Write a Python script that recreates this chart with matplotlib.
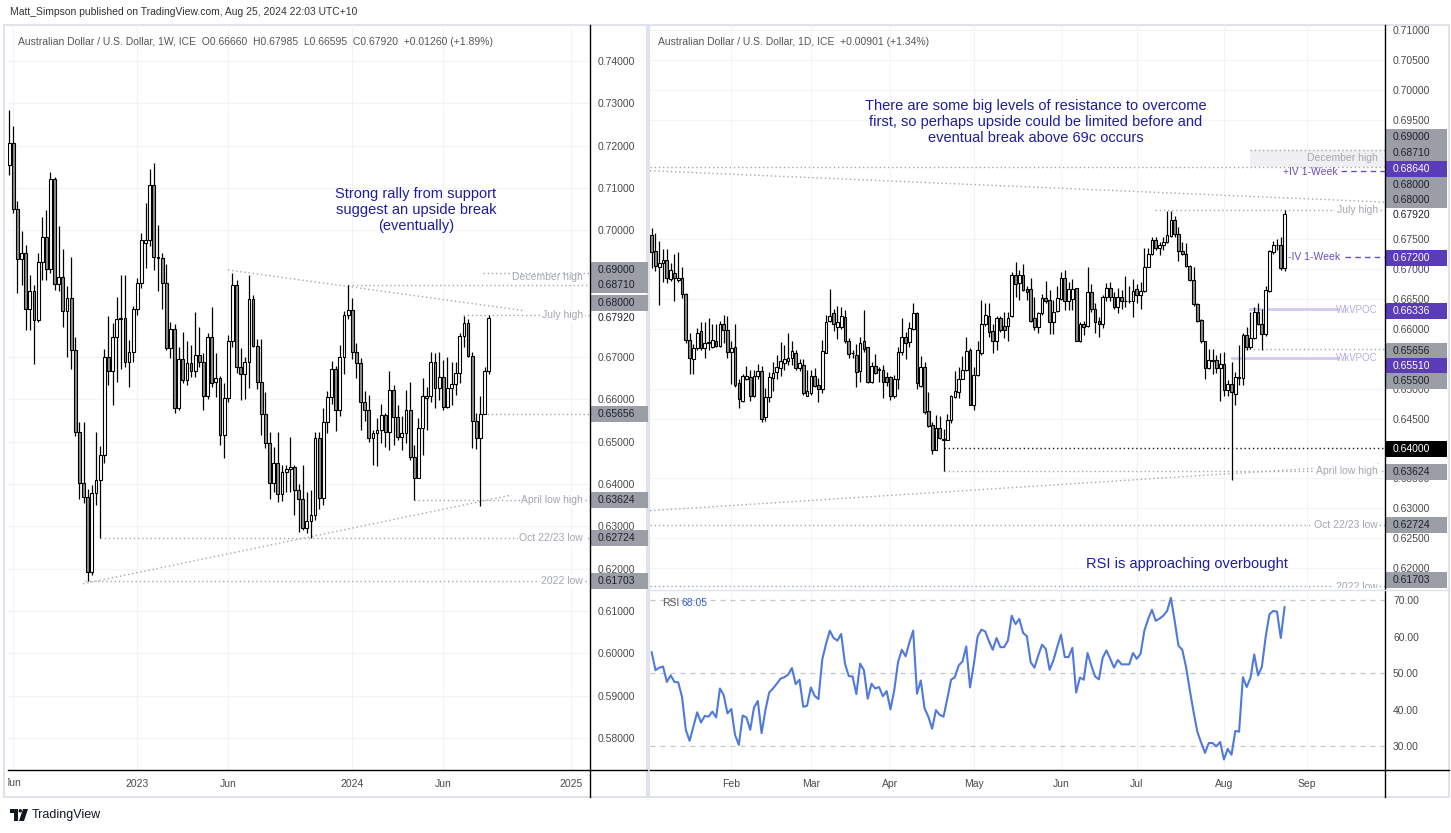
import numpy as np
import pandas as pd
import matplotlib
matplotlib.use("Agg")
import matplotlib.pyplot as plt
from matplotlib.patches import Rectangle, Polygon, Ellipse
from matplotlib.lines import Line2D
from matplotlib.transforms import Bbox

plt.rcParams['font.family'] = ['Liberation Sans', 'DejaVu Sans']

W, H = 1451, 833

# ---------------- weekly AUD/USD, bars start week of 2022-05-30 ----------------
wk_open = [0.7154, 0.7205, 0.7049, 0.6931, 0.6945, 0.6813, 0.6856, 0.6788, 0.6924, 0.6984, 0.6908,
           0.7120, 0.6872, 0.6889, 0.6808, 0.6839, 0.6717, 0.6524, 0.6402, 0.6369, 0.6192,
           0.6379, 0.6410, 0.6469, 0.6701, 0.6666, 0.6748, 0.6789, 0.6792, 0.6689, 0.6711,
           0.6813, 0.6876, 0.6970, 0.6976, 0.7107, 0.6936, 0.6934, 0.6874, 0.6721, 0.6766,
           0.6579, 0.6695, 0.6646, 0.6685, 0.6666, 0.6705, 0.6689, 0.6609, 0.6747, 0.6642,
           0.6650, 0.6516, 0.6603, 0.6737, 0.6870, 0.6677, 0.6660, 0.6689, 0.6837, 0.6727,
           0.6642, 0.6565, 0.6496, 0.6402, 0.6449, 0.6376, 0.6429, 0.6435, 0.6440, 0.6386,
           0.6365, 0.6296, 0.6313, 0.6327, 0.6508, 0.6366, 0.6546, 0.6605, 0.6672, 0.6575,
           0.6700, 0.6800, 0.6812, 0.6711, 0.6686, 0.6595, 0.6576, 0.6508, 0.6520, 0.6528,
           0.6563, 0.6522, 0.6622, 0.6559, 0.6512, 0.6520, 0.6575, 0.6463, 0.6415, 0.6532,
           0.6603, 0.6608, 0.6689, 0.6626, 0.6652, 0.6583, 0.6626, 0.6636, 0.6663, 0.6750,
           0.6781, 0.6702, 0.6550, 0.6508, 0.65656, 0.66660]
wk_high = [0.7283, 0.7246, 0.7069, 0.6997, 0.6965, 0.6894, 0.6870, 0.6945, 0.7032, 0.7048, 0.7138,
           0.7125, 0.7010, 0.6956, 0.6867, 0.6936, 0.6748, 0.6547, 0.6547, 0.6388, 0.6398,
           0.6522, 0.6490, 0.6720, 0.6796, 0.6780, 0.6843, 0.6894, 0.6894, 0.6740, 0.6821,
           0.6886, 0.6993, 0.7064, 0.7144, 0.7160, 0.7012, 0.6945, 0.6920, 0.6784, 0.6778,
           0.6725, 0.6760, 0.6739, 0.6729, 0.6807, 0.6772, 0.6709, 0.6756, 0.6818, 0.6709,
           0.6655, 0.6638, 0.6752, 0.6900, 0.6882, 0.6721, 0.6701, 0.6894, 0.6847, 0.6742,
           0.6742, 0.6617, 0.6524, 0.6488, 0.6522, 0.6445, 0.6445, 0.6512, 0.6445, 0.6401,
           0.6445, 0.6380, 0.6385, 0.6522, 0.6522, 0.6580, 0.6620, 0.6690, 0.6680, 0.6728,
           0.6808, 0.6871, 0.6839, 0.6734, 0.6697, 0.6620, 0.6610, 0.6528, 0.6555, 0.6590,
           0.6567, 0.6666, 0.6634, 0.6587, 0.6560, 0.6622, 0.6642, 0.6492, 0.6556, 0.6650,
           0.6630, 0.6713, 0.6709, 0.6713, 0.6693, 0.6701, 0.6689, 0.6689, 0.6756, 0.6798,
           0.6791, 0.6712, 0.6569, 0.6607, 0.6676, 0.67985]
wk_low = [0.7130, 0.7040, 0.6852, 0.6870, 0.6764, 0.6764, 0.6683, 0.6784, 0.6882, 0.6882, 0.6898,
          0.6859, 0.6857, 0.6772, 0.6700, 0.6671, 0.6514, 0.6364, 0.6356, 0.6170, 0.6185,
          0.6350, 0.6272, 0.6450, 0.6634, 0.6587, 0.6642, 0.6671, 0.6677, 0.6630, 0.6689,
          0.6800, 0.6863, 0.6910, 0.6962, 0.6906, 0.6857, 0.6813, 0.6717, 0.6697, 0.6567,
          0.6575, 0.6638, 0.6634, 0.6654, 0.6654, 0.6677, 0.6575, 0.6600, 0.6630, 0.6606,
          0.6492, 0.6461, 0.6595, 0.6725, 0.6663, 0.6599, 0.6602, 0.6626, 0.6725, 0.6624,
          0.6516, 0.6484, 0.6365, 0.6382, 0.6357, 0.6360, 0.6382, 0.6382, 0.6327, 0.6286,
          0.6291, 0.6285, 0.6272, 0.6315, 0.6340, 0.6350, 0.6520, 0.6590, 0.6525, 0.6560,
          0.6660, 0.6790, 0.6695, 0.6650, 0.6528, 0.6550, 0.6500, 0.6446, 0.6443, 0.6496,
          0.6488, 0.6481, 0.6493, 0.6504, 0.6480, 0.6497, 0.6457, 0.6362, 0.6414, 0.6469,
          0.6528, 0.6595, 0.6579, 0.6599, 0.6575, 0.6579, 0.6586, 0.6610, 0.6638, 0.6725,
          0.6700, 0.6484, 0.6482, 0.6348, 0.6566, 0.66595]
wk_close = [0.7205, 0.7049, 0.6931, 0.6945, 0.6813, 0.6856, 0.6788, 0.6924, 0.6984, 0.6908, 0.7120,
            0.6872, 0.6889, 0.6808, 0.6839, 0.6717, 0.6524, 0.6402, 0.6369, 0.6192, 0.6379,
            0.6410, 0.6469, 0.6701, 0.6666, 0.6748, 0.6789, 0.6792, 0.6689, 0.6711, 0.6813,
            0.6876, 0.6977, 0.6976, 0.7107, 0.6936, 0.6934, 0.6874, 0.6721, 0.6766, 0.6579,
            0.6695, 0.6646, 0.6685, 0.6666, 0.6705, 0.6689, 0.6609, 0.6747, 0.6638, 0.6650,
            0.6516, 0.6603, 0.6737, 0.6870, 0.6677, 0.6660, 0.6689, 0.6837, 0.6727, 0.6642,
            0.6565, 0.6496, 0.6402, 0.6449, 0.6376, 0.6429, 0.6435, 0.6440, 0.6386, 0.6365,
            0.6296, 0.6313, 0.6327, 0.6508, 0.6366, 0.6546, 0.6605, 0.6672, 0.6575, 0.6700,
            0.6800, 0.6812, 0.6711, 0.6686, 0.6595, 0.6576, 0.6508, 0.6520, 0.6528, 0.6563,
            0.6522, 0.6622, 0.6559, 0.6512, 0.6520, 0.6575, 0.6463, 0.6415, 0.6532, 0.6607,
            0.6608, 0.6689, 0.6626, 0.6652, 0.6583, 0.6626, 0.6636, 0.6663, 0.6750, 0.6781,
            0.6702, 0.6550, 0.6508, 0.65656, 0.66660, 0.67920]

# ---------------- daily AUD/USD, 2024-01-03 .. 2024-08-23 ----------------
d_open = [0.6757, 0.6730, 0.6704, 0.6711, 0.6715, 0.6683, 0.6693, 0.6681, 0.6685, 0.6658,
          0.6581, 0.6549, 0.6568, 0.6597, 0.6568, 0.6577, 0.6569, 0.6579, 0.6571, 0.6608,
          0.6599, 0.6562, 0.6569, 0.6510, 0.6479, 0.6516, 0.6519, 0.6488, 0.6522, 0.6530,
          0.6452, 0.6486, 0.6518, 0.6528, 0.6535, 0.6543, 0.6547, 0.6551, 0.6560, 0.6535,
          0.6539, 0.6488, 0.6493, 0.6522, 0.6506, 0.6499, 0.6559, 0.6613, 0.6626, 0.6604,
          0.6604, 0.6620, 0.6580, 0.6559, 0.6557, 0.6530, 0.6579, 0.6569, 0.6512, 0.6538,
          0.6532, 0.6531, 0.6520, 0.6519, 0.6487, 0.6517, 0.6561, 0.6586, 0.6578, 0.6600,
          0.6626, 0.6505, 0.6536, 0.6462, 0.6439, 0.6398, 0.6435, 0.6415, 0.6415, 0.6447,
          0.6486, 0.6494, 0.6517, 0.6531, 0.6565, 0.6472, 0.6523, 0.6559, 0.6608, 0.6621,
          0.6597, 0.6579, 0.6618, 0.6605, 0.6605, 0.6622, 0.6690, 0.6676, 0.6691, 0.6667,
          0.6667, 0.6618, 0.6604, 0.6626, 0.6652, 0.6648, 0.6612, 0.6630, 0.6650, 0.6685,
          0.6647, 0.6650, 0.6668, 0.6580, 0.6609, 0.6605, 0.6661, 0.6633, 0.6613, 0.6608,
          0.6654, 0.6668, 0.6654, 0.6637, 0.6653, 0.6646, 0.6647, 0.6646, 0.6666, 0.6656,
          0.6664, 0.6704, 0.6725, 0.6749, 0.6735, 0.6740, 0.6745, 0.6756, 0.6782, 0.6758,
          0.6730, 0.6726, 0.6706, 0.6681, 0.6642, 0.6615, 0.6579, 0.6534, 0.6548, 0.6548,
          0.6534, 0.6542, 0.6497, 0.6508, 0.6491, 0.6518, 0.6518, 0.6590, 0.6569, 0.6584,
          0.6629, 0.6609, 0.6591, 0.6664, 0.6728, 0.6740, 0.6741, 0.67019]
d_high = [0.6769, 0.6760, 0.6747, 0.6734, 0.6734, 0.6711, 0.6725, 0.6728, 0.6704, 0.6660,
          0.6594, 0.6574, 0.6601, 0.6611, 0.6611, 0.6619, 0.6609, 0.6609, 0.6613, 0.6623,
          0.6621, 0.6579, 0.6609, 0.6517, 0.6525, 0.6538, 0.6531, 0.6531, 0.6542, 0.6538,
          0.6501, 0.6528, 0.6545, 0.6557, 0.6578, 0.6573, 0.6594, 0.6580, 0.6565, 0.6550,
          0.6550, 0.6531, 0.6532, 0.6534, 0.6518, 0.6581, 0.6623, 0.6667, 0.6633, 0.6639,
          0.6636, 0.6631, 0.6584, 0.6565, 0.6574, 0.6587, 0.6632, 0.6570, 0.6545, 0.6558,
          0.6537, 0.6540, 0.6528, 0.6522, 0.6523, 0.6570, 0.6619, 0.6595, 0.6611, 0.6643,
          0.6629, 0.6554, 0.6545, 0.6494, 0.6445, 0.6456, 0.6455, 0.6433, 0.6457, 0.6490,
          0.6530, 0.6537, 0.6554, 0.6586, 0.6568, 0.6537, 0.6579, 0.6648, 0.6643, 0.6643,
          0.6609, 0.6622, 0.6621, 0.6629, 0.6629, 0.6696, 0.6712, 0.6699, 0.6708, 0.6672,
          0.6685, 0.6654, 0.6629, 0.6658, 0.6680, 0.6665, 0.6648, 0.6672, 0.6696, 0.6699,
          0.6679, 0.6684, 0.6669, 0.6611, 0.6613, 0.6704, 0.6675, 0.6644, 0.6620, 0.6657,
          0.6676, 0.6678, 0.6662, 0.6668, 0.6665, 0.6689, 0.6671, 0.6683, 0.6675, 0.6678,
          0.6735, 0.6735, 0.6753, 0.6753, 0.6746, 0.6754, 0.6797, 0.6797, 0.6789, 0.6771,
          0.6745, 0.6743, 0.6707, 0.6703, 0.6644, 0.6617, 0.6580, 0.6567, 0.6566, 0.6557,
          0.6559, 0.6562, 0.6515, 0.6545, 0.6528, 0.6573, 0.6593, 0.6604, 0.6628, 0.6636,
          0.6643, 0.6633, 0.6671, 0.6732, 0.6747, 0.6750, 0.6753, 0.67985]
d_low = [0.6702, 0.6697, 0.6640, 0.6679, 0.6677, 0.6680, 0.6647, 0.6679, 0.6652, 0.6577,
         0.6525, 0.6525, 0.6565, 0.6565, 0.6552, 0.6565, 0.6568, 0.6569, 0.6570, 0.6576,
         0.6552, 0.6508, 0.6503, 0.6468, 0.6478, 0.6515, 0.6480, 0.6486, 0.6517, 0.6444,
         0.6446, 0.6478, 0.6496, 0.6517, 0.6522, 0.6531, 0.6540, 0.6540, 0.6531, 0.6530,
         0.6489, 0.6487, 0.6489, 0.6503, 0.6477, 0.6493, 0.6559, 0.6612, 0.6597, 0.6583,
         0.6600, 0.6576, 0.6552, 0.6551, 0.6503, 0.6512, 0.6562, 0.6509, 0.6509, 0.6524,
         0.6512, 0.6485, 0.6505, 0.6481, 0.6484, 0.6500, 0.6557, 0.6550, 0.6570, 0.6598,
         0.6500, 0.6503, 0.6457, 0.6436, 0.6390, 0.6397, 0.6416, 0.6362, 0.6414, 0.6442,
         0.6484, 0.6485, 0.6516, 0.6530, 0.6472, 0.6464, 0.6522, 0.6557, 0.6605, 0.6587,
         0.6559, 0.6565, 0.6595, 0.6584, 0.6580, 0.6620, 0.6654, 0.6649, 0.6663, 0.6649,
         0.6611, 0.6598, 0.6593, 0.6623, 0.6643, 0.6591, 0.6591, 0.6628, 0.6649, 0.6632,
         0.6631, 0.6632, 0.6579, 0.6578, 0.6589, 0.6604, 0.6628, 0.6593, 0.6586, 0.6601,
         0.6647, 0.6647, 0.6633, 0.6626, 0.6634, 0.6636, 0.6644, 0.6620, 0.6644, 0.6634,
         0.6662, 0.6704, 0.6723, 0.6732, 0.6724, 0.6732, 0.6743, 0.6754, 0.6754, 0.6714,
         0.6724, 0.6704, 0.6680, 0.6639, 0.6612, 0.6577, 0.6516, 0.6533, 0.6524, 0.6526,
         0.6480, 0.6488, 0.6487, 0.6348, 0.6472, 0.6507, 0.6507, 0.6565, 0.6567, 0.6583,
         0.6607, 0.6565, 0.6588, 0.6661, 0.6726, 0.6732, 0.6699, 0.6697]
d_close = [0.6728, 0.6706, 0.6711, 0.6715, 0.6686, 0.6699, 0.6685, 0.6685, 0.6658, 0.6582,
           0.6551, 0.6568, 0.6593, 0.6568, 0.6576, 0.6578, 0.6582, 0.6571, 0.6609, 0.6599,
           0.6562, 0.6568, 0.6507, 0.6482, 0.6522, 0.6521, 0.6488, 0.6521, 0.6530, 0.6449,
           0.6486, 0.6519, 0.6527, 0.6537, 0.6546, 0.6549, 0.6551, 0.6563, 0.6535, 0.6543,
           0.6493, 0.6496, 0.6521, 0.6505, 0.6499, 0.6563, 0.6611, 0.6621, 0.6609, 0.6611,
           0.6622, 0.6579, 0.6558, 0.6560, 0.6528, 0.6577, 0.6566, 0.6512, 0.6538, 0.6527,
           0.6533, 0.6512, 0.6512, 0.6487, 0.6517, 0.6561, 0.6586, 0.6576, 0.6601, 0.6626,
           0.6509, 0.6536, 0.6461, 0.6438, 0.6398, 0.6435, 0.6418, 0.6416, 0.6448, 0.6488,
           0.6496, 0.6517, 0.6531, 0.6563, 0.6473, 0.6523, 0.6565, 0.6608, 0.6623, 0.6595,
           0.6579, 0.6619, 0.6598, 0.6598, 0.6619, 0.6690, 0.6675, 0.6691, 0.6665, 0.6661,
           0.6613, 0.6604, 0.6626, 0.6652, 0.6647, 0.6611, 0.6629, 0.6651, 0.6686, 0.6647,
           0.6667, 0.6667, 0.6580, 0.6608, 0.6604, 0.6661, 0.6633, 0.6612, 0.6609, 0.6653,
           0.6668, 0.6654, 0.6637, 0.6653, 0.6646, 0.6647, 0.6646, 0.6664, 0.6656, 0.6664,
           0.6704, 0.6725, 0.6749, 0.6736, 0.6740, 0.6745, 0.6757, 0.6782, 0.6758, 0.6731,
           0.6726, 0.6706, 0.6681, 0.6641, 0.6613, 0.6579, 0.6534, 0.6548, 0.6547, 0.6535,
           0.6541, 0.6497, 0.6508, 0.6494, 0.6519, 0.6519, 0.6590, 0.6570, 0.6584, 0.6628,
           0.6608, 0.6591, 0.6665, 0.6730, 0.6741, 0.6741, 0.67019, 0.67920]

rsi = [55.7, 50.8, 51.5, 51.8, 47.6, 49.4, 47.6, 47.5, 43.5, 34.5,
       31.5, 35.4, 39.3, 36.5, 38.3, 38.1, 39.5, 37.9, 45.8, 44.0,
       39.0, 40.2, 33.1, 30.4, 38.4, 37.9, 34.5, 40.6, 42.4, 33.6,
       39.9, 44.7, 45.8, 47.1, 48.5, 48.9, 49.6, 51.4, 47.0, 48.2,
       40.8, 41.1, 46.1, 43.8, 42.9, 53.7, 58.0, 61.6, 59.6, 58.9, 60.7,
       52.6, 49.2, 49.1, 44.3, 52.6, 50.8, 43.0, 47.1, 45.8, 46.2,
       43.7, 45.1, 40.1, 45.3, 53.0, 56.4, 54.6, 58.4, 61.6, 44.4,
       48.0, 40.4, 38.1, 34.8, 39.9, 38.6, 38.1, 43.0, 48.2, 48.9, 52.1,
       53.2, 57.3, 46.1, 52.4, 60.0, 61.9, 61.4, 58.7, 56.4, 59.6, 57.1,
       57.1, 58.9, 65.7, 63.4, 64.8, 61.0, 60.1, 53.0, 51.5, 54.8,
       57.8, 56.6, 50.9, 53.5, 57.1, 60.5, 54.4, 54.4, 56.9, 44.7,
       48.8, 48.2, 55.5, 52.1, 49.1, 48.3, 54.2, 56.2, 53.9, 51.5,
       53.6, 52.4, 52.4, 52.4, 55.5, 53.9, 55.3, 61.6, 64.8, 67.3,
       64.3, 64.9, 65.7, 67.0, 70.6, 64.3, 57.5, 56.4, 51.7, 45.3,
       39.3, 33.9, 31.0, 28.2, 30.9, 30.9, 30.0, 31.2, 26.4, 29.3, 27.7,
       34.2, 34.0, 48.9, 46.2, 48.7, 55.1, 49.4, 51.7, 59.8, 66.1,
       67.0, 66.8, 59.6, 68.05]

wk_ticks = [('Jun', '2023-06-01'), ('2023', '2023-01-01'), ('2024', '2024-01-01'),
            ('Jun', '2024-06-01'), ('2025', '2025-01-01')]
d_ticks = [('Feb', '2024-02-01'), ('Mar', '2024-03-01'), ('Apr', '2024-04-01'), ('May', '2024-05-01'),
           ('Jun', '2024-06-01'), ('Jul', '2024-07-01'), ('Aug', '2024-08-01'), ('Sep', '2024-09-01')]
# price scale labels that stay visible (the rest sit under level tags)
wk_price_ticks = [0.58, 0.59, 0.60, 0.61, 0.62, 0.63, 0.64, 0.65, 0.66, 0.67, 0.70, 0.71, 0.72, 0.73, 0.74]
d_price_ticks = [0.62, 0.625, 0.63, 0.635, 0.645, 0.65, 0.66, 0.665, 0.67, 0.675, 0.695, 0.70, 0.705, 0.71]

# ---------------------------------------------------------------
fig = plt.figure(figsize=(W / 100, H / 100), dpi=100)
fig.patch.set_facecolor('white')


def fx(px):
    return px / W


def fy(py):
    return 1 - py / H


def add_ax(x0, y0, x1, y1):
    ax = fig.add_axes([fx(x0), fy(y1), (x1 - x0) / W, (y1 - y0) / H])
    for s in ax.spines.values():
        s.set_visible(False)
    ax.set_facecolor('none')
    return ax


def candles(ax, x, o, h, l, c, width):
    o, h, l, c = (np.asarray(v, float) for v in (o, h, l, c))
    up = c >= o
    ax.vlines(x, l, h, colors='#000000', linewidth=0.9, zorder=3)
    ax.bar(x, np.maximum(np.abs(c - o), 0.00006), width=width, bottom=np.minimum(o, c),
           color=np.where(up, '#ffffff', '#8c8c8c'), edgecolor='#000000', linewidth=0.8, zorder=4)


def price_box(ax, pos, text, fc, tc, x0, x1, h=15.5):
    yd = ax.transData.transform((0, pos))[1]
    if fc is not None:
        fig.add_artist(Rectangle((fx(x0), (yd - h / 2) / H), (x1 - x0) / W, h / H,
                                 transform=fig.transFigure, fc=fc, ec='none', zorder=5))
    fig.text(fx(x0 + 7), yd / H, text, color=tc, fontsize=7.5, ha='left', va='center', zorder=6)


GRAY = '#a3a6af'
DOT = dict(color=GRAY, lw=1.0, ls=(0, (1, 2)), zorder=2)
LBL = dict(ha='right', va='center', color=GRAY, fontsize=7.5, zorder=6)
WBOX = dict(fc='white', ec='none', pad=1.2)
PURPLE = '#6a4dc4'
BOXGRAY = '#9b9ea6'

# ================= weekly panel =================
axw = add_ax(8, 25, 590, 770)
axw.set_xlim(-1.28, 139.5)
axw.set_ylim(0.57239, 0.74851)
wk_x = np.arange(-1, len(wk_open) - 1)
candles(axw, wk_x, wk_open, wk_high, wk_low, wk_close, 0.68)

wk_start = pd.Timestamp('2022-06-06')
wpos = [int(np.ceil((pd.Timestamp(d) - wk_start).days / 7)) for _, d in wk_ticks]
axw.set_xticks([0] + wpos)
axw.set_xticklabels([''] + [t for t, _ in wk_ticks])
axw.set_yticks(wk_price_ticks)
axw.yaxis.set_major_formatter(matplotlib.ticker.FormatStrFormatter('%.5f'))
axw.tick_params(axis='y', length=0, pad=5.8, labelsize=7.5, labelcolor='#4a4a4a',
                left=False, labelleft=False, right=False, labelright=True)
axw.tick_params(axis='x', length=0, pad=6.5, labelsize=7.5, labelcolor='#4a4a4a')
axw.grid(True, color='#f1f3f6', linewidth=0.8)
axw.set_axisbelow(True)
t = fig.text(fx(13.3), fy(783), 'Jun', ha='center', va='center', fontsize=7.5, color='#4a4a4a')
t.set_clip_box(Bbox.from_extents(8, 0, W, H))
t.set_clip_on(True)

axw.plot([51.9, 123.4], [0.6906, 0.6810], **DOT)
axw.plot([16.9, 120.6], [0.6164, 0.6374], **DOT)
axw.plot([113.6, 139.5], [0.6900, 0.6900], **DOT)
axw.plot([81, 139.5], [0.6871, 0.6871], **DOT)
axw.text(137.8, 0.68894, 'December high', **LBL)
axw.plot([108.7, 139.5], [0.67995, 0.67995], **DOT)
axw.text(137.8, 0.67995, 'July high', bbox=WBOX, **LBL)
axw.plot([113.6, 139.5], [0.65656, 0.65656], **DOT)
axw.plot([97, 139.5], [0.63624, 0.63624], **DOT)
axw.text(137.8, 0.63624, 'April low high', bbox=WBOX, **LBL)
axw.plot([21, 139.5], [0.62724, 0.62724], **DOT)
axw.text(137.8, 0.62724, 'Oct 22/23 low', bbox=WBOX, **LBL)
axw.plot([17.3, 139.5], [0.61703, 0.61703], **DOT)
axw.text(137.8, 0.61703, '2022 low', bbox=WBOX, **LBL)

for txt, pos in [('0.69000', 0.69059), ('0.68710', 0.68705), ('0.68000', 0.68279),
                 ('0.65656', 0.65656), ('0.63624', 0.63624), ('0.62724', 0.62724), ('0.61703', 0.61703)]:
    price_box(axw, pos, txt, BOXGRAY, '#1e222d', 591, 648)
price_box(axw, 0.67924, '0.67920', None, '#1e222d', 591, 648)

# ================= daily panel =================
axd = add_ax(650, 25, 1385, 588)
axd.set_xlim(-0.45, 193.5)
axd.set_ylim(0.61666, 0.71084)
d_x = np.arange(len(d_open))
candles(axd, d_x, d_open, d_high, d_low, d_close, 0.72)
dpos = [int(np.busday_count('2024-01-03', d)) for _, d in d_ticks]
axd.set_xticks(dpos)
axd.set_yticks(d_price_ticks)
axd.yaxis.set_major_formatter(matplotlib.ticker.FormatStrFormatter('%.5f'))
axd.tick_params(axis='y', length=0, pad=5.8, labelsize=7.5, labelcolor='#4a4a4a',
                left=False, labelleft=False, right=False, labelright=True)
axd.tick_params(axis='x', length=0, labelbottom=False)
axd.grid(True, color='#f3f4f7', linewidth=0.8)
axd.set_axisbelow(True)

axd.add_patch(Rectangle((157.9, 0.6871), 193.5 - 157.9, 0.0029, fc='#f0f0f2', ec='none', zorder=1))
axd.plot([157.9, 193.5], [0.6900, 0.6900], **DOT)
axd.plot([-0.45, 193.5], [0.6871, 0.6871], **DOT)
axd.text(191.6, 0.68859, 'December high', **LBL)
axd.plot([-0.45, 193.5], [0.68646, 0.68121], **DOT)
axd.plot([181.9, 193.5], [0.6864, 0.6864], color=PURPLE, lw=1, ls=(0, (4, 3)), zorder=2)
axd.text(181.1, 0.68625, '+IV 1-Week', ha='right', va='center', color=PURPLE, fontsize=7.5)
axd.plot([132.8, 193.5], [0.6799, 0.6799], **DOT)
axd.text(191.6, 0.6799, 'July high', bbox=WBOX, **LBL)
axd.plot([183.0, 193.5], [0.6720, 0.6720], color=PURPLE, lw=1, ls=(0, (4, 3)), zorder=2)
axd.text(181.6, 0.6720, '-IV 1-Week', ha='right', va='center', color=PURPLE, fontsize=7.5)
axd.plot([158.0, 181.0], [0.66336, 0.66336], color='#d3c9f1', lw=2, zorder=2)
axd.text(191.6, 0.66316, 'WkVPOC', ha='right', va='center', color='#b8aae6', fontsize=7)
axd.plot([153.0, 181.0], [0.6551, 0.6551], color='#d3c9f1', lw=2, zorder=2)
axd.text(191.6, 0.65513, 'WkVPOC', ha='right', va='center', color='#b8aae6', fontsize=7)
axd.plot([156.6, 193.5], [0.65656, 0.65656], **DOT)
axd.plot([77, 193.5], [0.6400, 0.6400], color='#131722', lw=1.0, ls=(0, (1, 2)), zorder=2)
axd.plot([77, 193.5], [0.63624, 0.63624], **DOT)
axd.text(191.6, 0.63624, 'April low high', bbox=WBOX, **LBL)
axd.plot([-0.45, 192.6], [0.62959, 0.63740], **DOT)
axd.plot([-0.45, 193.5], [0.62724, 0.62724], **DOT)
axd.text(191.6, 0.62724, 'Oct 22/23 low', bbox=WBOX, **LBL)
axd.plot([-0.45, 193.5], [0.61703, 0.61703], **DOT)
axd.text(191.6, 0.6168, '2022 low', bbox=WBOX, clip_on=True, **LBL)

for txt, pos, fc, tc in [('0.69000', 0.69210, BOXGRAY, '#1e222d'), ('0.68710', 0.68942, BOXGRAY, '#1e222d'),
                         ('0.68640', 0.68675, '#5b3cb8', 'white'), ('0.68000', 0.68407, BOXGRAY, '#1e222d'),
                         ('0.68000', 0.68156, BOXGRAY, '#1e222d'), ('0.67200', 0.67186, '#5b3cb8', 'white'),
                         ('0.66336', 0.66299, '#5b3cb8', 'white'), ('0.65656', 0.65630, BOXGRAY, '#1e222d'),
                         ('0.65510', 0.65379, '#5b3cb8', 'white'), ('0.65500', 0.65128, BOXGRAY, '#1e222d'),
                         ('0.64000', 0.63991, '#000000', 'white'), ('0.63624', 0.63606, BOXGRAY, '#1e222d'),
                         ('0.62724', 0.62720, BOXGRAY, '#1e222d'), ('0.61703', 0.61800, BOXGRAY, '#1e222d')]:
    price_box(axd, pos, txt, fc, tc, 1386, 1447)
price_box(axd, 0.67905, '0.67920', None, '#1e222d', 1386, 1447)

# ================= RSI panel =================
axr = add_ax(650, 591, 1385, 770)
axr.set_xlim(-0.45, 193.5)
axr.set_ylim(23.53, 72.45)
axr.plot(np.arange(len(d_open) - len(rsi), len(d_open)), rsi, color='#5079dc', lw=1.5, zorder=3)
for lv in (70, 50, 30):
    axr.axhline(lv, color='#c3c6ce', lw=0.9, ls=(0, (4, 4)), zorder=1)
axr.set_xticks(dpos)
axr.set_xticklabels([t for t, _ in d_ticks])
axr.set_yticks([30, 40, 50, 60, 70])
axr.yaxis.set_major_formatter(matplotlib.ticker.FormatStrFormatter('%.2f'))
axr.tick_params(axis='y', length=0, pad=5.8, labelsize=7.5, labelcolor='#4a4a4a',
                left=False, labelleft=False, right=False, labelright=True)
axr.tick_params(axis='x', length=0, pad=6.5, labelsize=7.5, labelcolor='#4a4a4a')
axr.grid(True, axis='x', color='#f3f4f7', linewidth=0.8)
axr.set_axisbelow(True)

# ================= frames, axes lines, texts =================
for x0, x1 in ((4, 647), (649, 1449)):
    fig.add_artist(Rectangle((fx(x0), fy(797)), (x1 - x0) / W, (797 - 25) / H, transform=fig.transFigure,
                             fill=False, ec='#e0e3eb', lw=1.5, zorder=0))
for xs, ys, col in [((590, 590), (25, 797), '#000000'), ((8, 647), (770, 770), '#000000'),
                    ((1385, 1385), (25, 797), '#000000'), ((650, 1449), (770, 770), '#000000'),
                    ((650, 1449), (589.5, 589.5), '#e0e3eb')]:
    fig.add_artist(Line2D([fx(xs[0]), fx(xs[1])], [fy(ys[0]), fy(ys[1])], color=col, lw=1,
                          transform=fig.transFigure, zorder=7))

fig.text(fx(10), fy(12), 'Matt_Simpson published on TradingView.com, Aug 25, 2024 22:03 UTC+10',
         fontsize=7.5, color='#333333', va='center')
fig.text(fx(18), fy(42), 'Australian Dollar / U.S. Dollar, 1W, ICE  O0.66660  H0.67985  L0.66595  C0.67920  '
         '+0.01260 (+1.89%)', fontsize=7.5, color='#555555', va='center')
fig.text(fx(658), fy(42), 'Australian Dollar / U.S. Dollar, 1D, ICE  +0.00901 (+1.34%)',
         fontsize=7.5, color='#555555', va='center')

NAVY = '#1d1da3'
fig.text(fx(416), fy(210), 'Strong rally from support\nsuggest an upside break\n(eventually)',
         ha='center', va='center', fontsize=10.5, color=NAVY, linespacing=1.15)
fig.text(fx(1036), fy(122), 'There are some big levels of resistance to overcome\n'
         'first, so perhaps upside could be limited before and\neventual break above 69c occurs',
         ha='center', va='center', fontsize=10.5, color=NAVY, linespacing=1.15)
fig.text(fx(1187), fy(564), 'RSI is approaching overbought', ha='center', va='center',
         fontsize=10.5, color=NAVY)
fig.text(fx(662), fy(603), 'RSI', fontsize=7.5, color='#555555', va='center')
fig.text(fx(681), fy(603), '68.05', fontsize=7.5, color='#2f5fd8', va='center')


# TradingView logo
def pxpoly(pts):
    return [(fx(x), fy(y)) for x, y in pts]


fig.add_artist(Polygon(pxpoly([(10, 809), (18, 809), (18, 821), (14.5, 821), (14.5, 812.5), (10, 812.5)]),
                       closed=True, transform=fig.transFigure, fc='#131722', ec='none'))
fig.add_artist(Ellipse((fx(20.3), fy(810.8)), 3.4 / W, 3.4 / H, transform=fig.transFigure, fc='#131722', ec='none'))
fig.add_artist(Polygon(pxpoly([(23, 809), (28, 809), (24, 821), (19, 821)]), closed=True,
                       transform=fig.transFigure, fc='#131722', ec='none'))
fig.text(fx(32), fy(815), 'TradingView', fontsize=9, color='#131722', va='center')

fig.savefig('out.png', dpi=100, facecolor='white')
